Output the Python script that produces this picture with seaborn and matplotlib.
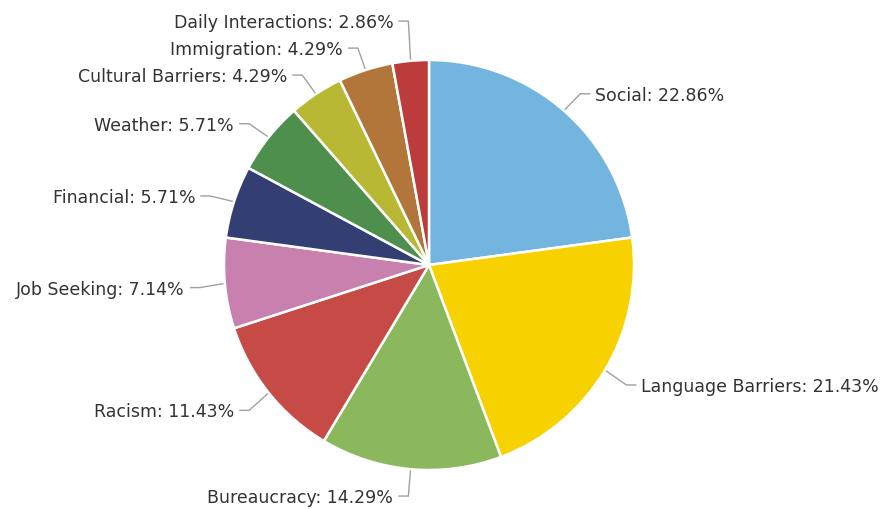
import numpy as np
import matplotlib
matplotlib.use("Agg")
import matplotlib.pyplot as plt
import seaborn as sns

categories = ["Social", "Language Barriers", "Bureaucracy", "Racism", "Job Seeking",
              "Financial", "Weather", "Cultural Barriers", "Immigration", "Daily Interactions"]
percents = [22.86, 21.43, 14.29, 11.43, 7.14, 5.71, 5.71, 4.29, 4.29, 2.86]
colors = ["#74B5E0", "#F7D200", "#8BB85D", "#C64A46", "#C880AE",
          "#333F73", "#4E8F4D", "#B8B834", "#B3763A", "#BC3C3C"]

sns.set_theme(style="white")
plt.rcParams['font.family'] = ['DejaVu Sans']

W, H = 881, 509
fig = plt.figure(figsize=(W / 100, H / 100), dpi=100)
ax = fig.add_axes([0, 0, 1, 1])

cx, cy_px, r = 429, 265, 205
dist = 25

def Y(px):
    return H - px

ax.pie(percents, colors=colors, startangle=90, counterclock=False,
       center=(cx, Y(cy_px)), radius=r,
       wedgeprops=dict(edgecolor="white", linewidth=1.8))

ax.set_xlim(0, W)
ax.set_ylim(0, H)
ax.set_aspect("equal")
ax.axis("off")

# label geometry from data angles
total = sum(percents)
cum = np.cumsum([0] + percents[:-1]) / total
mids = (cum + np.array(percents) / total / 2) * 2 * np.pi  # clockwise from top
sins, coss = np.sin(mids), np.cos(mids)
label_y = cy_px + 2 - (r + dist) * coss

# simple overlap avoidance on each side (push upward)
gap = 27
for side in (1, -1):
    idx = [i for i in range(len(categories)) if np.sign(sins[i]) == side]
    idx.sort(key=lambda i: -label_y[i])
    prev = None
    for i in idx:
        if prev is not None and label_y[i] > prev - gap:
            label_y[i] = prev - gap
        prev = label_y[i]

for i, cat in enumerate(categories):
    s = np.sign(sins[i])
    ex, ey = cx + r * sins[i], cy_px - r * coss[i]
    bx = cx + (r + dist) * sins[i]
    by = label_y[i]
    ax.plot([ex, bx, bx + s * 10], [Y(ey), Y(by), Y(by)],
            color="#A0A0A0", lw=1, solid_capstyle="butt", zorder=0)
    ax.text(bx + s * 15, Y(by), f"{cat}: {percents[i]:.2f}%",
            ha="left" if s > 0 else "right", va="center_baseline",
            fontsize=12.5, color="#333333")

fig.savefig("out.png", dpi=100)
